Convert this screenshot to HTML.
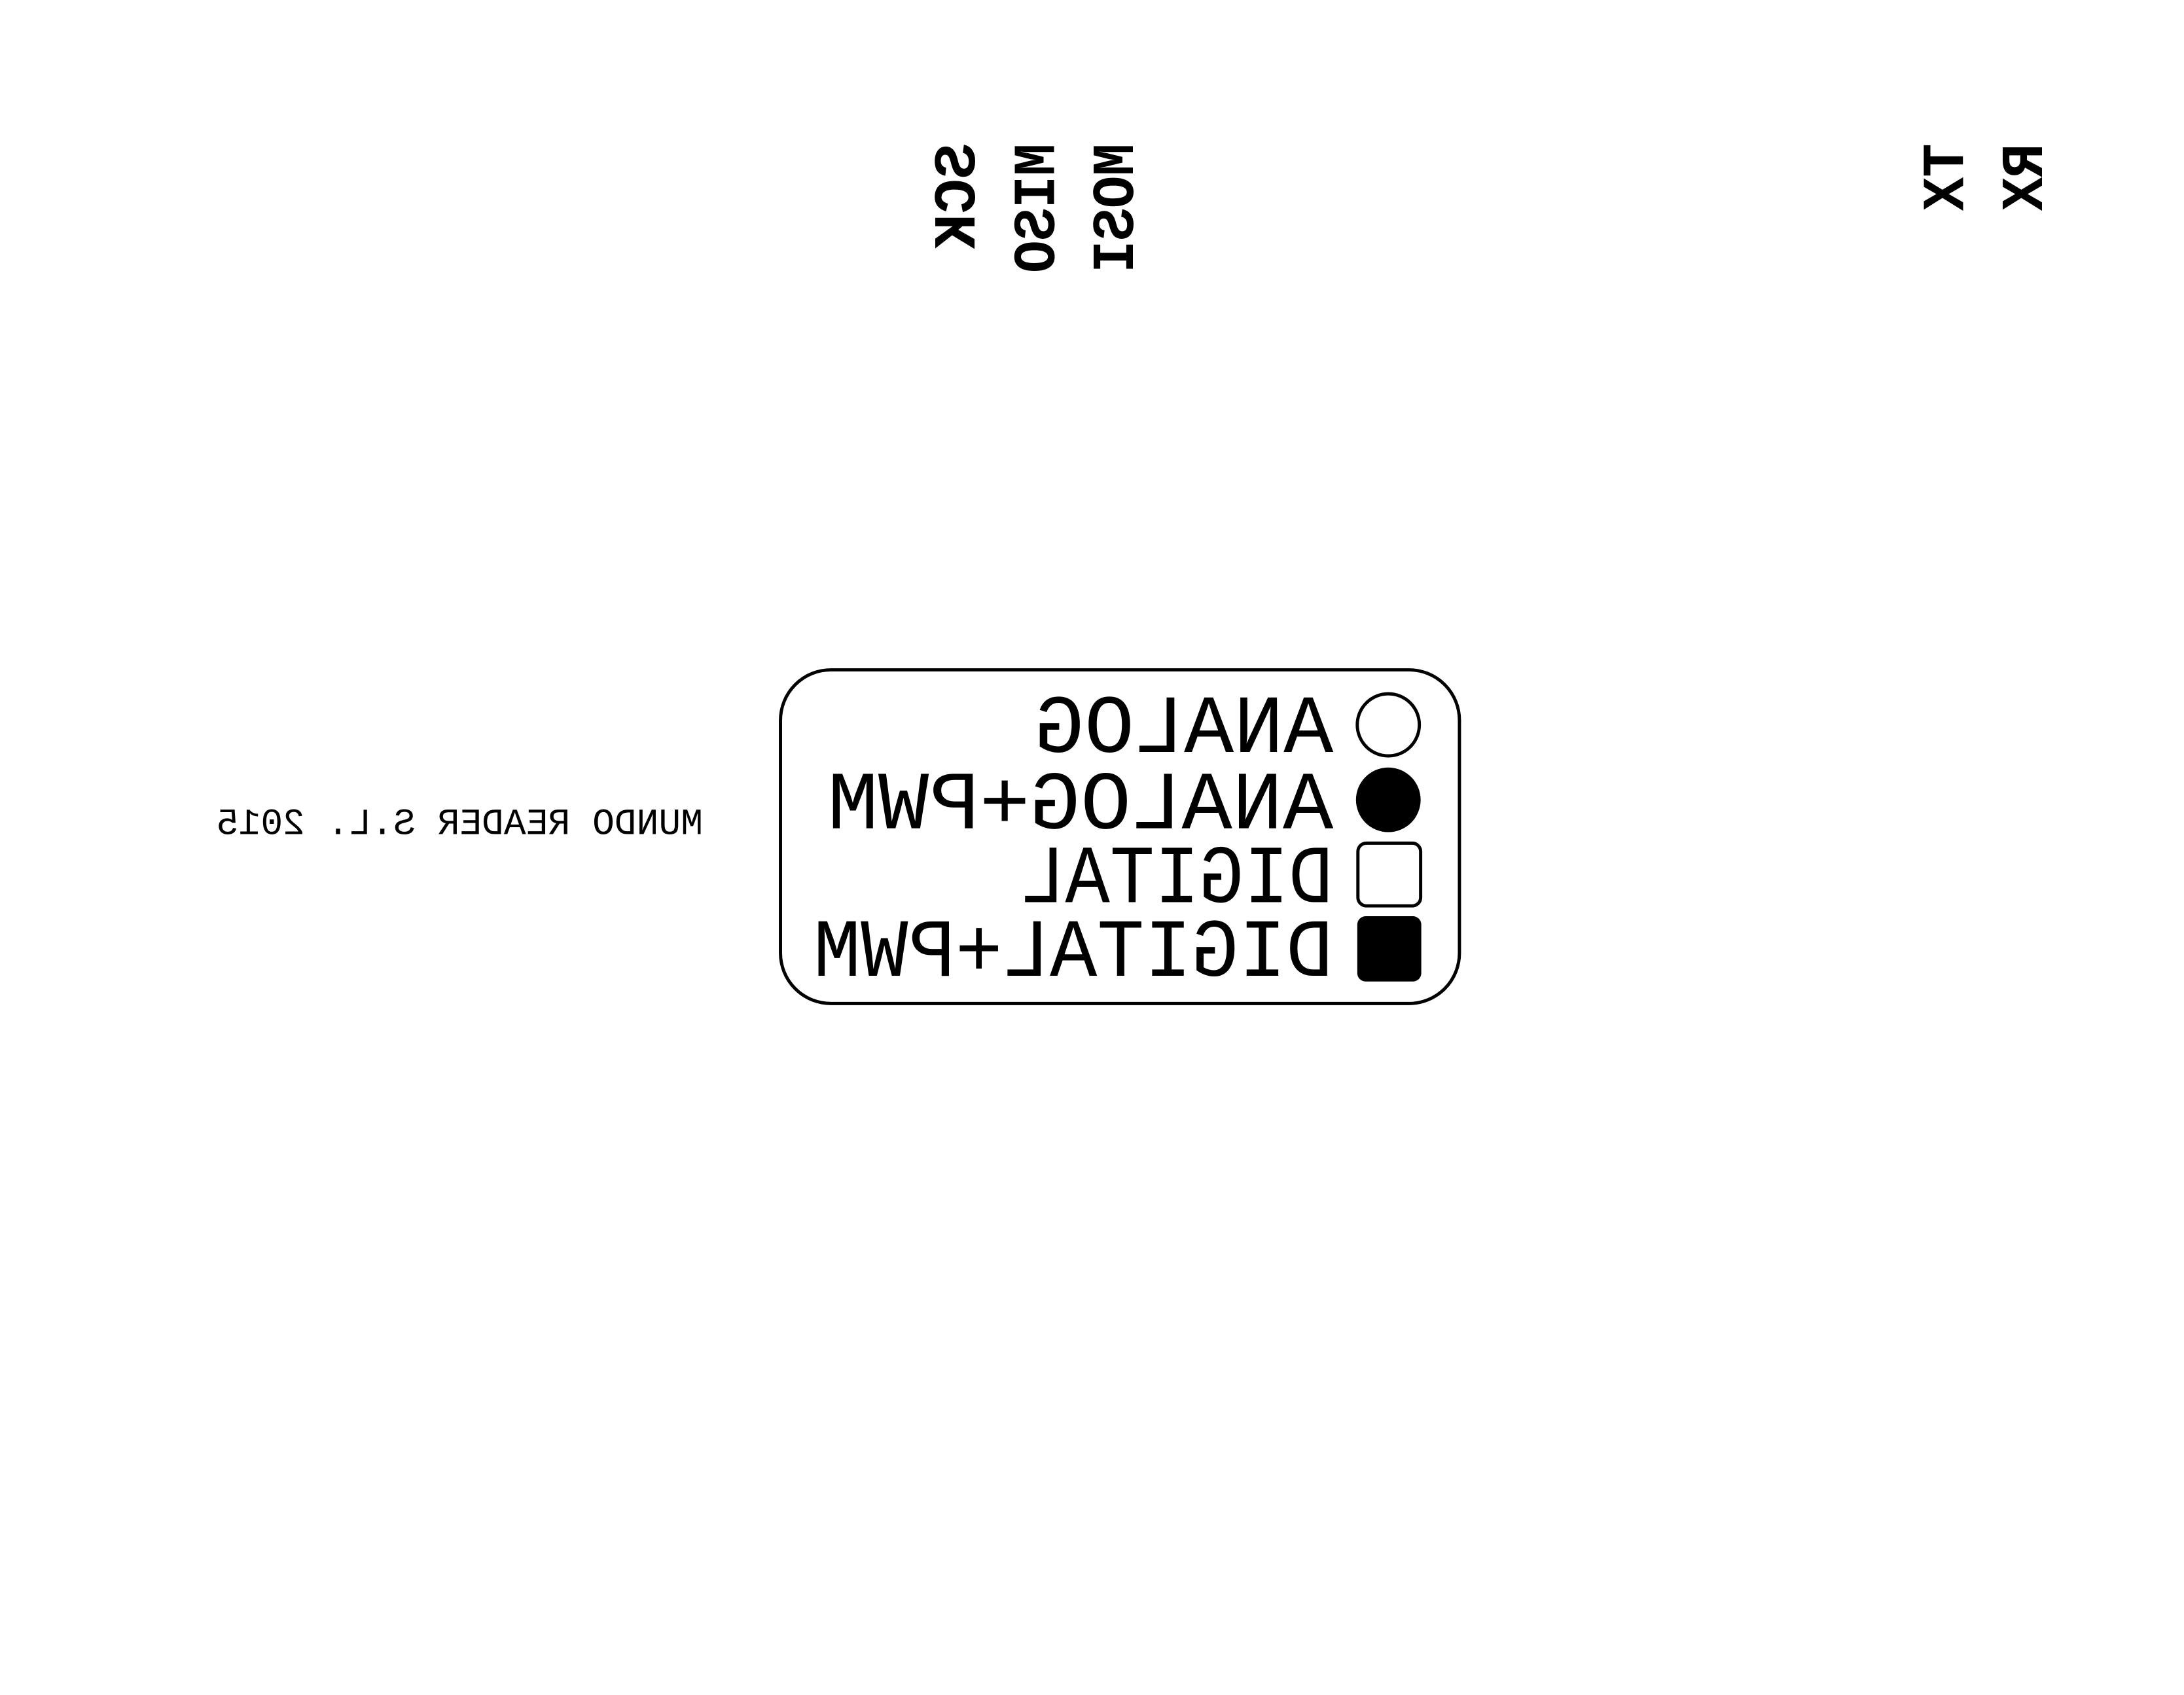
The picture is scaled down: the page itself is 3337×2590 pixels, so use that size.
<!DOCTYPE html>
<html><head><meta charset="utf-8"><style>
html,body{margin:0;padding:0;background:#fff;}
svg{display:block;}
</style></head><body>
<svg width="3337" height="2590" viewBox="0 0 3337 2590" xmlns="http://www.w3.org/2000/svg">
<rect width="3337" height="2590" fill="#fff"/>
<g transform="scale(0.988)">
<g font-family="Liberation Mono, monospace" font-weight="bold" font-size="92" fill="#000" lengthAdjust="spacingAndGlyphs">
<text transform="matrix(0 1 1 0 1507 222)" textLength="163" lengthAdjust="spacingAndGlyphs">SCK</text>
<text transform="matrix(0 1 1 0 1630 222)" textLength="200" lengthAdjust="spacingAndGlyphs">MISO</text>
<text transform="matrix(0 1 1 0 1752 222)" textLength="200" lengthAdjust="spacingAndGlyphs">MOSI</text>
<text transform="matrix(0 1 1 0 3036 222)" textLength="104" lengthAdjust="spacingAndGlyphs">TX</text>
<text transform="matrix(0 1 1 0 3158 222)" textLength="104" lengthAdjust="spacingAndGlyphs">RX</text>
</g>
<rect x="1207" y="1036" width="1050" height="516" rx="78" ry="78" fill="none" stroke="#000" stroke-width="5"/>
<circle cx="2147" cy="1121" r="48" fill="none" stroke="#000" stroke-width="5"/>
<circle cx="2147" cy="1237" r="50" fill="#000"/>
<rect x="2100" y="1304" width="97" height="97" rx="13" fill="none" stroke="#000" stroke-width="5"/>
<rect x="2099" y="1417" width="99" height="101" rx="13" fill="#000"/>
<g font-family="Liberation Mono, monospace" font-size="128" fill="#000">
<text transform="matrix(-1 0 0 1 2062 1163)" textLength="462" lengthAdjust="spacingAndGlyphs">ANALOG</text>
<text transform="matrix(-1 0 0 1 2062 1281)" textLength="782" lengthAdjust="spacingAndGlyphs">ANALOG+PWM</text>
<text transform="matrix(-1 0 0 1 2062 1395)" textLength="484" lengthAdjust="spacingAndGlyphs">DIGITAL</text>
<text transform="matrix(-1 0 0 1 2062 1509)" textLength="804" lengthAdjust="spacingAndGlyphs">DIGITAL+PWM</text>
</g>
<text transform="matrix(-1 0 0 1 1087 1290)" font-family="Liberation Mono, monospace" font-size="57" fill="#000">MUNDO READER S.L. 2015</text>
</g>
</svg>
</body></html>
